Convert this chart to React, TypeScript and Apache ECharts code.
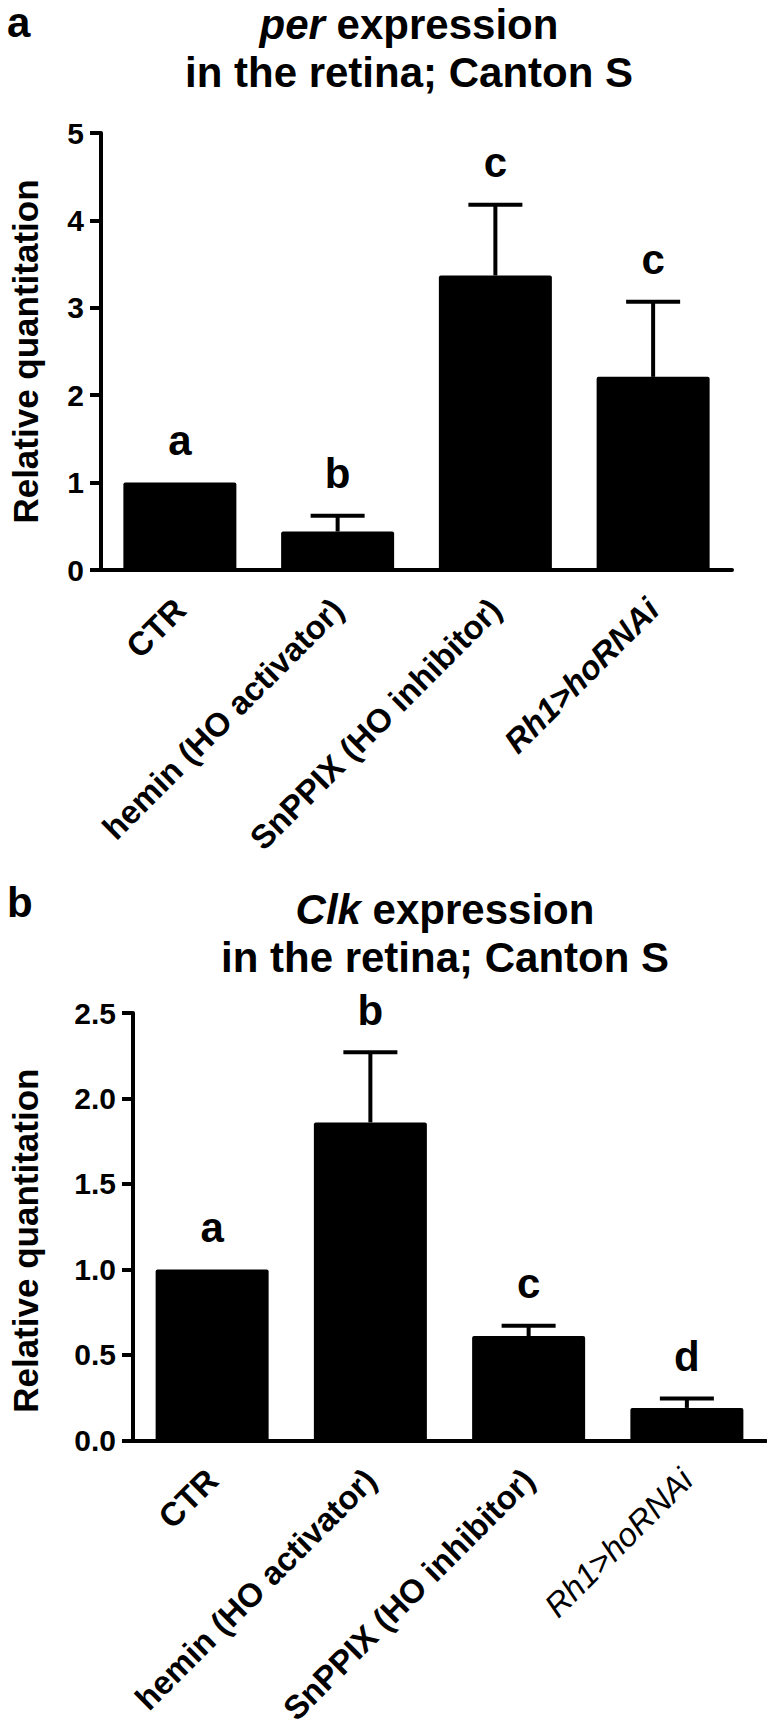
import React, { useEffect, useRef } from "react";
import * as echarts from "echarts";

const categories = ["CTR", "hemin (HO activator)", "SnPPIX (HO inhibitor)", "Rh1>hoRNAi"];

// Panel a: per expression
const perMean = [1.0, 0.44, 3.37, 2.21];
const perErrTop = [1.0, 0.62, 4.18, 3.07];
const perLetters = ["a", "b", "c", "c"];
const perTicks = [0, 1, 2, 3, 4, 5];

// Panel b: Clk expression
const clkMean = [1.0, 1.86, 0.61, 0.19];
const clkErrTop = [1.0, 2.27, 0.67, 0.245];
const clkLetters = ["a", "b", "c", "d"];
const clkTicks = [0, 0.5, 1.0, 1.5, 2.0, 2.5];

const FONT = '"Liberation Sans", Arial, Helvetica, sans-serif';

function errorSeries(gridIdx: number, means: number[], tops: number[], letters: string[]) {
  return {
    type: "custom",
    xAxisIndex: gridIdx,
    yAxisIndex: gridIdx,
    z: 5,
    data: means.map((m, i) => [i, m, tops[i]]),
    renderItem: (params: any, api: any) => {
      const i = api.value(0);
      const v = api.value(1);
      const e = api.value(2);
      const base = api.coord([i, v]);
      const top = api.coord([i, e]);
      const children: any[] = [];
      if (e > v) {
        children.push({
          type: "line",
          shape: { x1: base[0], y1: base[1], x2: top[0], y2: top[1] },
          style: { stroke: "#000", lineWidth: 4 },
        });
        children.push({
          type: "line",
          shape: { x1: top[0] - 27, y1: top[1], x2: top[0] + 27, y2: top[1] },
          style: { stroke: "#000", lineWidth: 4 },
        });
      }
      children.push({
        type: "text",
        x: top[0],
        y: top[1] - 21,
        style: {
          text: letters[params.dataIndex],
          fontSize: 42,
          fontWeight: "bold",
          fontFamily: FONT,
          fill: "#000",
          align: "center",
          verticalAlign: "bottom",
        },
      });
      return { type: "group", children };
    },
  };
}

function xAxisFor(gridIdx: number, italicBold: boolean) {
  return {
    type: "category",
    gridIndex: gridIdx,
    data: categories,
    axisLine: { lineStyle: { color: "#000", width: 4 } },
    axisTick: { alignWithLabel: true, length: 11, lineStyle: { color: "#000", width: 4 } },
    axisLabel: {
      rotate: 45,
      margin: 34,
      interval: 0,
      color: "#000",
      fontSize: 33,
      fontWeight: "bold",
      fontFamily: FONT,
      formatter: (val: string) => (val === "Rh1>hoRNAi" ? "{it|" + val + "}" : val),
      rich: {
        it: {
          fontStyle: "italic",
          fontWeight: italicBold ? "bold" : "normal",
          fontSize: 33,
          fontFamily: FONT,
          color: "#000",
        },
      },
    },
  };
}

function yAxisFor(gridIdx: number, ticks: number[], decimals: number, gap: number, fs: number, shiftDown: number) {
  return {
    type: "value",
    gridIndex: gridIdx,
    min: ticks[0],
    max: ticks[ticks.length - 1],
    interval: ticks[1] - ticks[0],
    name: "Relative quantitation",
    nameLocation: "middle",
    nameGap: gap,
    nameTextStyle: {
      fontSize: 35,
      fontWeight: "bold",
      fontFamily: FONT,
      color: "#000",
      padding: [0, shiftDown, 0, 0],
    },
    splitLine: { show: false },
    axisLine: { show: true, lineStyle: { color: "#000", width: 4 } },
    axisTick: { show: true, length: 11, lineStyle: { color: "#000", width: 4 } },
    axisLabel: {
      color: "#000",
      fontSize: fs,
      fontWeight: "bold",
      fontFamily: FONT,
      margin: 17,
      formatter: (v: number) => v.toFixed(decimals),
    },
  };
}

export default function App() {
  const ref = useRef<HTMLDivElement>(null);
  useEffect(() => {
    document.body.style.margin = "0";
    if (!ref.current) return;
    const chart = echarts.init(ref.current, null, { renderer: "svg" });
    const titleStyle = {
      fontSize: 42,
      fontWeight: "bold",
      fontFamily: FONT,
      color: "#000",
      lineHeight: 48,
      rich: {
        i: { fontStyle: "italic", fontWeight: "bold", fontSize: 42, fontFamily: FONT, color: "#000", lineHeight: 48 },
      },
    };
    chart.setOption({
      animation: false,
      backgroundColor: "#fff",
      title: [
        { text: "a", left: 2, top: -4, textStyle: { fontSize: 42, fontWeight: "bold", fontFamily: FONT, color: "#000" } },
        { text: "{i|per} expression\nin the retina; Canton S", left: 404, top: -5, textAlign: "center", textStyle: titleStyle },
        { text: "b", left: 2, top: 876, textStyle: { fontSize: 42, fontWeight: "bold", fontFamily: FONT, color: "#000" } },
        { text: "{i|Clk} expression\nin the retina; Canton S", left: 440, top: 880, textAlign: "center", textStyle: titleStyle },
      ],
      grid: [
        { left: 75, right: 35, top: 133, height: 437 },
        { left: 109, right: 1, top: 1013, height: 437 },
      ],
      xAxis: [xAxisFor(0, true), xAxisFor(1, false)],
      yAxis: [yAxisFor(0, perTicks, 0, 58, 30, 0), yAxisFor(1, clkTicks, 1, 90, 30, 28)],
      series: [
        {
          type: "bar",
          xAxisIndex: 0,
          yAxisIndex: 0,
          data: perMean,
          barWidth: 113,
          itemStyle: { color: "#000", borderRadius: 2 },
        },
        errorSeries(0, perMean, perErrTop, perLetters),
        {
          type: "bar",
          xAxisIndex: 1,
          yAxisIndex: 1,
          data: clkMean,
          barWidth: 113,
          itemStyle: { color: "#000", borderRadius: 2 },
        },
        errorSeries(1, clkMean, clkErrTop, clkLetters),
      ],
    });
    return () => chart.dispose();
  }, []);
  return <div ref={ref} style={{ position: "absolute", left: 0, top: 0, width: 767, height: 1728 }} />;
}
